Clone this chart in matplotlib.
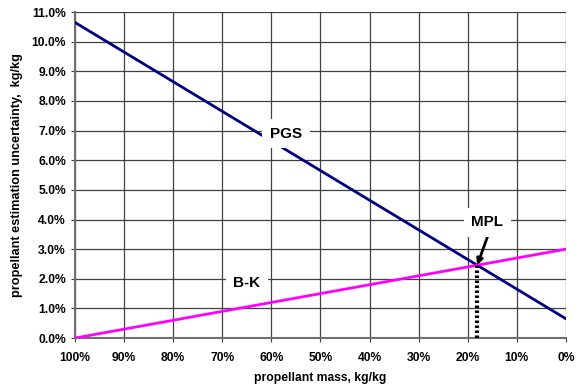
import numpy as np
import matplotlib.pyplot as plt
from matplotlib.ticker import FuncFormatter

plt.rcParams['font.family'] = ['Liberation Sans', 'DejaVu Sans']
plt.rcParams['font.weight'] = 'bold'

# propellant mass fraction (%) and uncertainty (%) at the line ends
mass = [100, 0]
pgs = [10.65, 0.65]
bk = [0.0, 3.0]

# crossing point of the two lines (minimum propellant level)
slope_pgs = (pgs[1] - pgs[0]) / (mass[1] - mass[0])
slope_bk = (bk[1] - bk[0]) / (mass[1] - mass[0])
mpl_mass = mass[0] + (bk[0] - pgs[0]) / (slope_pgs - slope_bk)
mpl_unc = pgs[0] + slope_pgs * (mpl_mass - mass[0])

fig = plt.figure(figsize=(5.79, 3.89), dpi=100)
ax = fig.add_axes([0.1295, 0.131, 0.848, 0.838])

ax.plot(mass, pgs, color='#000080', lw=2, zorder=3)
ax.plot(mass, bk, color='#FF00FF', lw=2, zorder=3)
ax.plot([mpl_mass, mpl_mass], [0, mpl_unc], color='black', lw=3,
        linestyle=(0, (0.6, 0.6)), zorder=4)

box = dict(boxstyle='square,pad=0.5', fc='white', ec='none')
ax.text(57, 6.9, 'PGS', ha='center', va='center', fontsize=11,
        fontweight='bold', bbox=box, zorder=5)
ax.text(65, 1.85, 'B-K', ha='center', va='center', fontsize=11,
        fontweight='bold', bbox=box, zorder=5)
ax.annotate('MPL', xy=(mpl_mass, mpl_unc), xytext=(16, 3.9),
            ha='center', va='center', fontsize=11, fontweight='bold',
            bbox=box, zorder=6,
            arrowprops=dict(arrowstyle='-|>', color='black', lw=2,
                            mutation_scale=9, shrinkA=0, shrinkB=0,
                            relpos=(0.6, 0.1)))

ax.set_xlim(100, 0)
ax.set_ylim(0, 11)
ax.set_xticks(np.arange(100, -1, -10))
ax.set_yticks(np.arange(0, 11.01, 1))
ax.xaxis.set_major_formatter(FuncFormatter(lambda v, p: f'{v:.0f}%'))
ax.yaxis.set_major_formatter(FuncFormatter(lambda v, p: f'{v:.1f}%'))
ax.tick_params(labelsize=8.7, length=3, color='#404040')
ax.tick_params(axis='x', pad=7)
for lab in ax.get_xticklabels() + ax.get_yticklabels():
    lab.set_fontweight('bold')

ax.grid(True, color='#404040', lw=0.9)
ax.set_axisbelow(True)
for s in ['top', 'right']:
    ax.spines[s].set_visible(False)
for s in ['left', 'bottom']:
    ax.spines[s].set_color('#707070')
    ax.spines[s].set_linewidth(1.5)

ax.set_xlabel('propellant mass, kg/kg', fontsize=8.7, fontweight='bold',
              labelpad=6)
ax.set_ylabel('propellant estimation uncertainty,  kg/kg', fontsize=9.2,
              fontweight='bold', labelpad=6)

fig.savefig('out.png', dpi=100)
